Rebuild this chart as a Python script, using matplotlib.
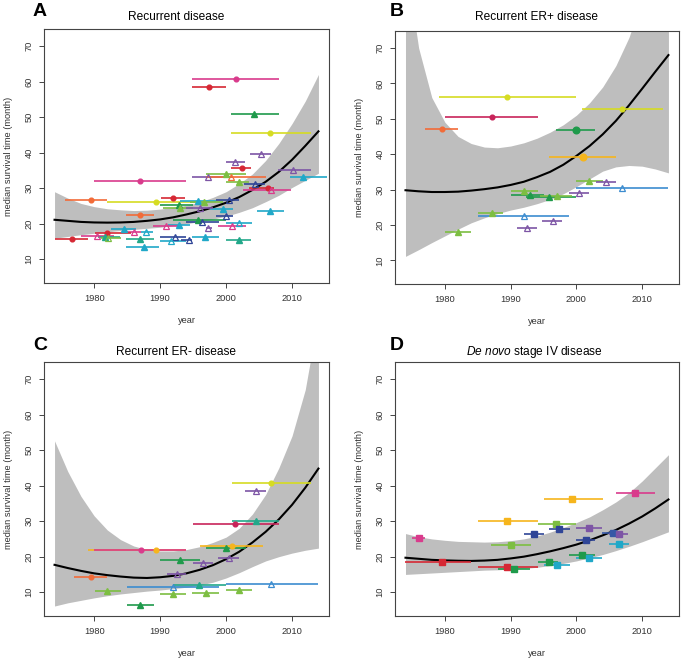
import matplotlib
matplotlib.use('Agg')
import matplotlib.pyplot as plt

plt.rcParams['font.family'] = ['Liberation Sans', 'DejaVu Sans']
plt.rcParams['mathtext.fontset'] = 'custom'
plt.rcParams['mathtext.it'] = 'Liberation Sans:italic'
plt.rcParams['mathtext.rm'] = 'Liberation Sans'

# years at which the fitted curve and band were read
grid = [1974, 1976, 1978, 1980, 1982, 1984, 1986, 1988, 1990, 1992, 1994,
        1996, 1998, 2000, 2002, 2004, 2006, 2008, 2010, 2012, 2014]

# panel A: recurrent disease
a_fit = [21.1, 20.8, 20.5, 20.35, 20.3, 20.35, 20.5, 20.8, 21.2, 21.8, 22.6,
         23.5, 24.6, 25.9, 27.5, 29.5, 31.8, 34.6, 38.0, 41.9, 46.0]
a_hi = [29.0, 27.2, 25.7, 24.8, 24.2, 23.9, 23.7, 23.8, 24.1, 24.6, 25.2,
        26.1, 27.4, 29.0, 31.3, 34.0, 37.8, 42.6, 48.2, 54.5, 62.0]
a_lo = [15.9, 16.4, 16.9, 17.3, 17.7, 18.1, 18.4, 18.7, 19.0, 19.5, 20.0,
        20.6, 21.3, 22.1, 23.2, 24.5, 26.2, 28.0, 30.2, 32.2, 34.2]
a_year = [2001.5, 1997.4, 2004.3, 2006.7, 2005.3, 2001.4, 2002.4, 2010.2, 1987.0, 2011.7,
          1997.3, 2000.8, 2000.0, 2001.9, 2004.4, 2006.3, 2006.8, 2006.7, 1979.5, 1989.4,
          1991.9, 1987.0, 1992.9, 1995.8, 1996.7, 1993.0, 1999.5, 2000.5, 1996.0, 2000.0,
          1995.8, 1996.3, 1992.9, 1990.9, 1997.3, 2000.9, 2001.9, 1984.6, 1986.0, 1987.9,
          1980.5, 1982.0, 1981.7, 1982.1, 1976.6, 1987.0, 1987.6, 1992.2, 1991.6, 1994.4,
          1996.8, 2001.9]
a_from = [1994.9, 1994.9, 2000.8, 2000.8, 2003.7, 2000.0, 2000.8, 2007.9, 1980.0, 2009.7,
          1994.9, 1996.9, 1996.9, 2000.0, 2002.7, 2003.5, 2002.5, 2004.7, 1975.6, 1982.0,
          1990.1, 1984.9, 1990.0, 1993.0, 1994.5, 1990.5, 1997.5, 1998.5, 1994.0, 1998.5,
          1992.0, 1994.0, 1991.2, 1988.9, 1996.9, 1998.7, 2000.0, 1982.6, 1984.9, 1987.1,
          1978.0, 1980.1, 1980.6, 1981.0, 1974.1, 1984.9, 1984.9, 1990.0, 1990.0, 1993.2,
          1994.9, 2000.0]
a_to = [2008.0, 2000.0, 2008.0, 2012.8, 2006.8, 2002.8, 2003.8, 2012.9, 1993.9, 2015.3,
        2001.0, 2006.0, 2003.0, 2003.4, 2005.9, 2007.3, 2009.9, 2008.8, 1982.0, 1995.7,
        1993.8, 1989.0, 1995.0, 1998.5, 1999.5, 1995.0, 2001.0, 2002.0, 1998.0, 2001.0,
        2000.0, 1999.0, 1994.5, 1992.9, 1997.9, 2003.0, 2004.0, 1986.4, 1987.1, 1988.9,
        1983.0, 1985.6, 1983.9, 1984.0, 1979.0, 1989.0, 1989.9, 1994.0, 1993.9, 1994.9,
        1998.9, 2003.8]
a_surv = [60.7, 58.4, 50.9, 45.4, 39.6, 37.5, 35.6, 35.1, 32.1, 33.2,
          33.1, 33.1, 33.9, 31.6, 31.2, 30.0, 29.5, 23.6, 26.6, 26.1,
          27.1, 22.5, 25.2, 26.4, 26.1, 24.3, 24.1, 26.7, 24.4, 22.2,
          21.0, 20.6, 19.6, 19.4, 18.7, 19.4, 20.2, 18.6, 17.7, 17.7,
          16.6, 17.3, 16.2, 16.1, 15.6, 15.6, 13.5, 16.2, 15.1, 15.3,
          16.3, 15.5]
a_col = ['magenta', 'red', 'green', 'yellow', 'purple', 'purple', 'red', 'purple', 'magenta', 'cyan',
         'purple', 'orange', 'lgreen', 'lgreen', 'dblue', 'red', 'magenta', 'cyan', 'orange', 'yellow',
         'red', 'orange', 'green', 'cyan', 'lgreen', 'lgreen', 'cyan', 'dblue', 'purple', 'dblue',
         'green', 'dblue', 'cyan', 'magenta', 'purple', 'magenta', 'cyan', 'cyan', 'magenta', 'cyan',
         'magenta', 'red', 'teal', 'lgreen', 'red', 'teal', 'cyan', 'dblue', 'cyan', 'dblue',
         'cyan', 'teal']
a_mark = ['o', 'o', 'T', 'o', 't', 't', 'o', 't', 'o', 'T',
          't', 't', 'T', 'T', 't', 'o', 't', 'T', 'o', 'o',
          'o', 'o', 'T', 'T', 'T', 'T', 'T', 't', 't', 't',
          'T', 't', 'T', 't', 't', 't', 't', 'T', 't', 't',
          't', 'o', 'T', 't', 'o', 'T', 'T', 't', 't', 't',
          'T', 'T']

# panel B: recurrent ER+ disease
b_fit = [29.8, 29.5, 29.3, 29.3, 29.4, 29.7, 30.1, 30.6, 31.3, 32.2, 33.5,
         35.0, 37.0, 39.5, 42.3, 45.6, 49.4, 53.8, 58.5, 63.3, 68.0]
b_hi = [95.0, 70.0, 56.0, 49.0, 45.0, 43.0, 42.0, 41.8, 42.3, 43.2, 44.5,
        46.2, 48.3, 51.0, 54.5, 59.0, 65.0, 73.0, 84.0, 100.0, 125.0]
b_lo = [11.1, 13.0, 15.0, 16.9, 18.8, 20.6, 22.0, 23.2, 24.2, 25.0, 26.0,
        27.2, 28.8, 30.8, 33.0, 35.2, 36.4, 36.8, 36.6, 35.8, 34.7]
b_year = [1989.5, 1987.1, 1979.6, 1999.9, 2006.9, 2001.0, 2001.9, 2004.5, 2006.9, 2000.4,
          1992.0, 1993.0, 1995.9, 1997.1, 1987.1, 1992.0, 1996.5, 1992.5, 1982.0]
b_from = [1979.1, 1980.0, 1977.0, 1996.9, 2000.9, 1995.9, 2000.0, 2003.0, 2000.0, 1998.8,
          1990.0, 1990.0, 1992.4, 1994.4, 1985.0, 1985.0, 1994.8, 1991.0, 1980.0]
b_to = [2000.0, 1994.1, 1982.0, 2002.9, 2013.1, 2006.0, 2004.0, 2006.0, 2014.0, 2001.9,
        1994.1, 1995.0, 1999.9, 1999.4, 1988.8, 1998.9, 1997.8, 1994.0, 1984.0]
b_surv = [56.1, 50.4, 47.2, 46.8, 52.9, 39.3, 32.5, 32.0, 30.3, 29.0,
          29.6, 28.5, 28.0, 28.2, 23.5, 22.4, 21.1, 19.0, 18.1]
b_col = ['yellow', 'crimson', 'orange', 'green', 'yellow', 'amber', 'lgreen', 'purple', 'lblue', 'purple',
         'lgreen', 'green', 'green', 'lgreen', 'lgreen', 'lblue', 'purple', 'purple', 'lgreen']
b_mark = ['o', 'o', 'o', 'O', 'o', 'O', 'T', 't', 't', 't',
          'T', 'T', 'T', 'T', 'T', 't', 't', 't', 'T']

# panel C: recurrent ER- disease
c_fit = [17.7, 16.8, 16.0, 15.3, 14.8, 14.4, 14.1, 14.0, 14.2, 14.6, 15.3,
         16.3, 17.6, 19.3, 21.4, 24.0, 27.0, 30.5, 34.6, 39.4, 44.8]
c_hi = [52.6, 44.0, 37.0, 31.5, 27.5, 24.8, 23.0, 22.0, 21.6, 21.6, 22.0,
        22.8, 24.0, 25.5, 28.0, 32.0, 37.5, 45.0, 54.0, 67.0, 88.0]
c_lo = [6.1, 7.0, 7.7, 8.4, 9.0, 9.5, 9.9, 10.3, 10.6, 11.0, 11.4,
        12.0, 12.8, 14.0, 15.5, 17.2, 18.8, 20.0, 21.0, 21.8, 22.4]
c_year = [2006.8, 2004.5, 2001.4, 2004.5, 1989.4, 1987.1, 2000.9, 2000.0, 1993.0, 1996.5,
          2000.4, 1992.5, 1979.5, 1992.0, 1995.9, 2006.8, 1982.0, 1992.0, 1996.9, 2001.9, 1987.0]
c_from = [2000.9, 2002.9, 1995.0, 2000.9, 1979.0, 1980.0, 1996.0, 1997.0, 1990.0, 1995.0,
          1998.8, 1991.0, 1977.0, 1985.0, 1992.0, 2000.0, 1980.1, 1990.0, 1994.9, 2000.0, 1985.0]
c_to = [2012.9, 2006.0, 2008.0, 2008.0, 1994.0, 1994.0, 2005.6, 2003.0, 1996.0, 1998.0,
        2001.9, 1994.0, 1982.0, 1999.0, 2000.0, 2013.9, 1984.0, 1994.0, 1999.0, 2003.9, 1989.0]
c_surv = [40.7, 38.6, 29.2, 30.0, 21.8, 21.8, 23.0, 22.3, 19.2, 18.1,
          19.7, 15.2, 14.3, 11.5, 12.0, 12.4, 10.3, 9.6, 9.8, 10.5, 6.3]
c_col = ['yellow', 'purple', 'crimson', 'teal', 'amber', 'magenta', 'amber', 'green', 'green', 'purple',
         'purple', 'purple', 'orange', 'lblue', 'teal', 'lblue', 'lgreen', 'lgreen', 'lgreen', 'lgreen', 'green']
c_mark = ['o', 't', 'o', 'T', 'o', 'o', 'o', 'T', 'T', 't',
          't', 't', 'o', 't', 'T', 't', 'T', 'T', 'T', 'T', 'T']

# panel D: de novo stage IV disease
d_fit = [19.7, 19.4, 19.1, 18.95, 18.85, 18.8, 18.9, 19.1, 19.5, 20.0, 20.7,
         21.5, 22.4, 23.4, 24.6, 26.0, 27.5, 29.3, 31.3, 33.6, 36.1]
d_hi = [26.5, 25.6, 25.0, 24.6, 24.3, 24.2, 24.1, 24.2, 24.5, 25.0, 25.8,
        26.9, 28.2, 29.6, 31.2, 33.2, 35.4, 38.0, 41.3, 45.0, 48.7]
d_lo = [15.0, 15.2, 15.4, 15.6, 15.8, 16.0, 16.2, 16.3, 16.5, 16.7, 17.0,
        17.5, 18.1, 18.8, 19.7, 20.6, 21.7, 22.9, 24.2, 25.6, 27.0]
d_year = [2008.9, 1999.4, 1989.4, 1996.9, 1993.5, 1997.4, 2001.9, 2005.5, 2006.5, 2001.4,
          2006.5, 1976.0, 1990.0, 2000.9, 2001.9, 1979.5, 1995.9, 1997.0, 1989.5, 1990.5]
d_from = [2006.0, 1995.0, 1985.0, 1994.1, 1992.0, 1995.9, 1999.9, 2003.9, 2005.0, 1999.9,
          2004.9, 1975.0, 1987.0, 1998.9, 2000.0, 1974.0, 1994.1, 1995.0, 1985.0, 1988.0]
d_to = [2011.9, 2004.0, 1994.1, 2000.0, 1995.0, 1999.0, 2003.9, 2006.9, 2007.9, 2002.9,
        2008.0, 1977.0, 1993.1, 2002.9, 2003.9, 1984.0, 1997.2, 1999.0, 1994.1, 1993.0]
d_surv = [38.0, 36.1, 30.0, 29.2, 26.4, 27.8, 28.1, 26.7, 26.4, 24.7,
          23.5, 25.3, 23.4, 20.4, 19.7, 18.5, 18.4, 17.7, 17.1, 16.5]
d_col = ['magenta', 'amber', 'amber', 'lgreen', 'dblue', 'dblue', 'purple', 'blue', 'purple', 'dblue',
         'cyan', 'magenta', 'lgreen', 'green', 'cyan', 'red', 'green', 'cyan', 'red', 'green']
d_mark = ['s'] * 20

pal = {'red': '#D62834', 'crimson': '#C8245A', 'magenta': '#D93B8C', 'orange': '#F26B38',
       'amber': '#F6B51C', 'yellow': '#D6DC23', 'lgreen': '#7DBE42', 'green': '#1F9A4B',
       'teal': '#22A88A', 'cyan': '#20A8C8', 'lblue': '#3C8CCF', 'blue': '#3658A6',
       'dblue': '#2F4597', 'purple': '#7D55A5'}

fig = plt.figure(figsize=(6.83, 6.60), dpi=100)


def panel(rect, fit, lo, hi, yr, x0, x1, surv, col, mark):
    ax = fig.add_axes(rect)
    ax.fill_between(grid, lo, hi, color='#BEBEBE', lw=0, zorder=1)
    ax.plot(grid, fit, color='black', lw=1.5, zorder=2)
    for i in range(len(yr)):
        c = pal[col[i]]
        ax.hlines(surv[i], x0[i], x1[i], color=c, lw=1.2, zorder=3)
        m = mark[i]
        if m == 'o':
            ax.plot(yr[i], surv[i], 'o', ms=3.4, color=c, mec=c, zorder=4)
        elif m == 'O':
            ax.plot(yr[i], surv[i], 'o', ms=4.8, color=c, mec=c, zorder=4)
        elif m == 'T':
            ax.plot(yr[i], surv[i], '^', ms=5.0, color=c, mec=c, zorder=4)
        elif m == 't':
            ax.plot(yr[i], surv[i], '^', ms=5.0, mfc='none', mec=c, mew=0.9, zorder=4)
        else:
            ax.plot(yr[i], surv[i], 's', ms=4.0, color=c, mec=c, zorder=4)
    ax.set_xlim(1972.4, 2015.6)
    ax.set_ylim(3.3, 74.8)
    ax.set_xticks([1980, 1990, 2000, 2010])
    ax.set_yticks([10, 20, 30, 40, 50, 60, 70])
    ax.tick_params(direction='out', length=3.6, width=0.7, color='#444',
                   labelcolor='#333', labelsize=6.7, pad=4)
    for lab in ax.get_yticklabels():
        lab.set_rotation(90)
        lab.set_va('center')
    for s in ax.spines.values():
        s.set_color('#444')
        s.set_linewidth(0.8)
    ax.set_xlabel('year', fontsize=6.7, color='#333', labelpad=10)
    ax.set_ylabel('median survival time (month)', fontsize=6.7, color='#333', labelpad=8)
    return ax


panel([0.0644, 0.5712, 0.4173, 0.3848], a_fit, a_lo, a_hi, a_year, a_from, a_to, a_surv, a_col, a_mark)
panel([0.5783, 0.5697, 0.4158, 0.3833], b_fit, b_lo, b_hi, b_year, b_from, b_to, b_surv, b_col, b_mark)
panel([0.0644, 0.0667, 0.4173, 0.3848], c_fit, c_lo, c_hi, c_year, c_from, c_to, c_surv, c_col, c_mark)
panel([0.5783, 0.0667, 0.4158, 0.3848], d_fit, d_lo, d_hi, d_year, d_from, d_to, d_surv, d_col, d_mark)

fig.text(0.2577, 0.974, 'Recurrent disease', ha='center', va='center', fontsize=8.6)
fig.text(0.786, 0.974, 'Recurrent ER+ disease', ha='center', va='center', fontsize=8.6)
fig.text(0.2577, 0.4667, 'Recurrent ER- disease', ha='center', va='center', fontsize=8.6)
fig.text(0.782, 0.4667, r'$\mathit{De\ novo}$ stage IV disease', ha='center', va='center', fontsize=8.6)

for x, y, s in [(0.0586, 0.982, 'A'), (0.581, 0.982, 'B'), (0.0586, 0.477, 'C'), (0.581, 0.476, 'D')]:
    fig.text(x, y, s, ha='center', va='center', fontsize=14, fontweight='bold')

fig.savefig('out.png', dpi=100)
